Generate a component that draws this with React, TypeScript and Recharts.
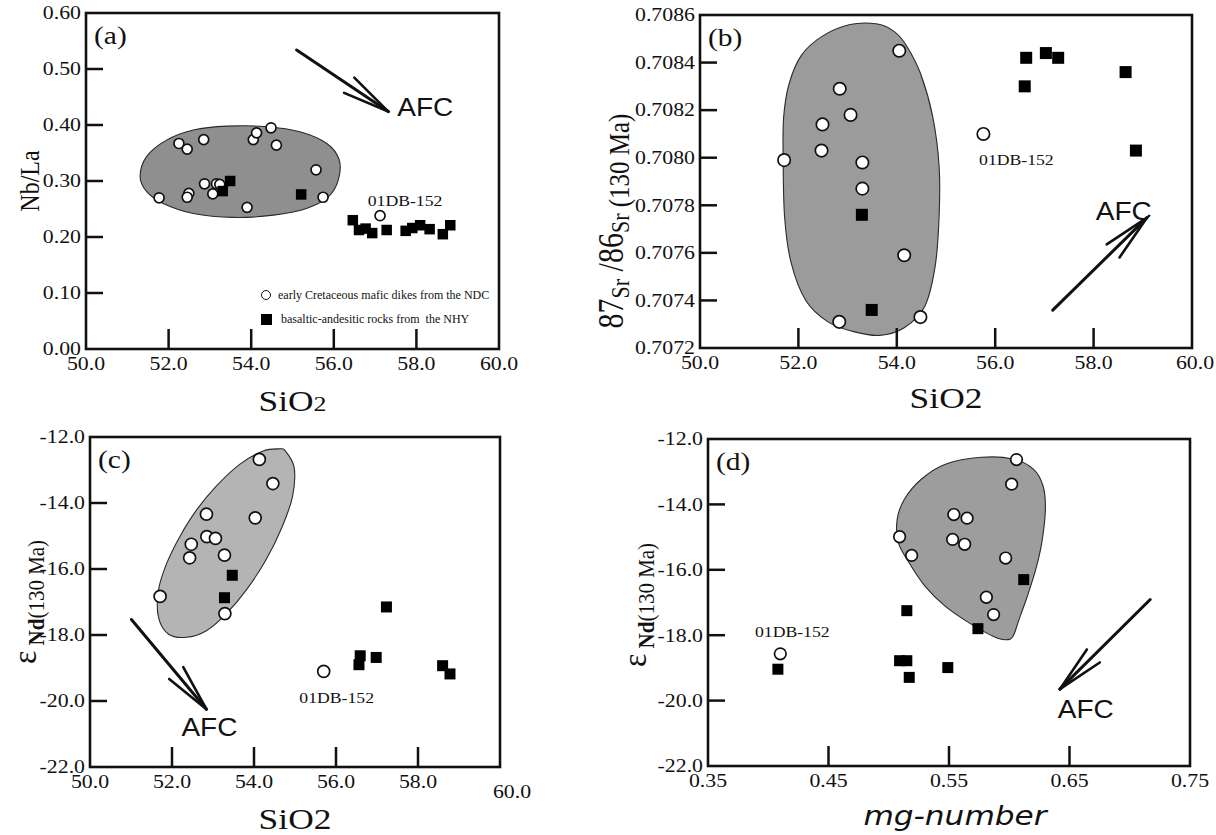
import React from 'react';
import {
  ScatterChart,
  Scatter,
  XAxis,
  YAxis,
  ReferenceArea,
  ReferenceLine,
  Legend,
} from 'recharts';

type XY = [number, number];

const W = 1216;
const H = 835;
const SERIF = '"Liberation Serif", "Times New Roman", serif';
const SANS = '"Liberation Sans", Arial, sans-serif';
const INK = '#111';
// lettering in this figure runs a little wide
const STRETCH = 1.18;

// axis ticks
const sio2Ticks = [50, 52, 54, 56, 58, 60];
const nbLaTicks = [0, 0.1, 0.2, 0.3, 0.4, 0.5, 0.6];
const srTicks = [0.7072, 0.7074, 0.7076, 0.7078, 0.708, 0.7082, 0.7084, 0.7086];
const epsNdTicks = [-22, -20, -18, -16, -14, -12];
const mgTicks = [0.35, 0.45, 0.55, 0.65, 0.75];

// (a) Nb/La vs SiO2
const nbLaNdc: XY[] = [
  [51.77, 0.27], [52.25, 0.367], [52.45, 0.357], [52.85, 0.374], [52.49, 0.278],
  [52.45, 0.271], [52.87, 0.295], [53.16, 0.295], [53.07, 0.277], [53.24, 0.294],
  [53.9, 0.253], [54.05, 0.374], [54.13, 0.386], [54.48, 0.395], [54.61, 0.364],
  [55.57, 0.32], [55.74, 0.271],
];
const nbLaOutlier: XY[] = [[57.12, 0.238]];
const nbLaNhy: XY[] = [
  [53.49, 0.3], [53.31, 0.282], [55.21, 0.276], [56.46, 0.23], [56.61, 0.2125],
  [56.77, 0.215], [56.93, 0.207], [57.28, 0.2125], [57.74, 0.211], [57.9, 0.216],
  [58.09, 0.221], [58.32, 0.214], [58.64, 0.205], [58.82, 0.221],
];
const nbLaField: XY[] = [
  [51.31, 0.308], [51.47, 0.344], [51.95, 0.373], [52.6, 0.391], [53.41, 0.398],
  [54.37, 0.397], [55.18, 0.388], [55.83, 0.367], [56.13, 0.338], [56.11, 0.302],
  [55.87, 0.272], [55.34, 0.251], [54.54, 0.239], [53.57, 0.235], [52.6, 0.242],
  [51.87, 0.26], [51.47, 0.281],
];
const nbLaAfc: XY[] = [[55.1, 0.534], [57.32, 0.424]];

// (b) 87Sr/86Sr(i) vs SiO2
const srNdc: XY[] = [
  [54.05, 0.70845], [52.84, 0.70829], [53.06, 0.70818], [52.49, 0.70814],
  [52.47, 0.70803], [51.71, 0.70799], [53.3, 0.70798], [53.3, 0.70787],
  [54.15, 0.70759], [52.83, 0.70731], [54.48, 0.70733],
];
const srOutlier: XY[] = [[55.76, 0.7081]];
const srNhy: XY[] = [
  [53.29, 0.70776], [53.49, 0.70736], [56.63, 0.70842], [56.6, 0.7083],
  [57.03, 0.70844], [57.28, 0.70842], [58.65, 0.70836], [58.86, 0.70803],
];
const srField: XY[] = [
  [53.61, 0.708562], [53.95, 0.70853], [54.2, 0.70847], [54.48, 0.708355],
  [54.73, 0.708173], [54.86, 0.707964], [54.86, 0.707754], [54.78, 0.707544],
  [54.57, 0.707376], [54.15, 0.707285], [53.65, 0.707253], [53.1, 0.70727],
  [52.6, 0.70731], [52.15, 0.7074], [51.85, 0.70756], [51.72, 0.70775],
  [51.69, 0.707992], [51.7, 0.70817], [51.81, 0.70831], [52.06, 0.70843],
  [52.48, 0.70851], [53.05, 0.70856],
];
const srAfc: XY[] = [[57.17, 0.707359], [59.08, 0.707747]];

// (c) eNd(t) vs SiO2
const ndSiNdc: XY[] = [
  [54.13, -12.68], [54.46, -13.41], [52.84, -14.34], [54.03, -14.45],
  [52.85, -15.02], [53.06, -15.07], [52.47, -15.25], [52.43, -15.66],
  [53.28, -15.58], [51.71, -16.83], [53.29, -17.35],
];
const ndSiOutlier: XY[] = [[55.7, -19.1]];
const ndSiNhy: XY[] = [
  [53.47, -16.19], [53.28, -16.87], [57.23, -17.15], [56.59, -18.63],
  [56.56, -18.9], [56.98, -18.68], [58.6, -18.93], [58.78, -19.18],
];
const ndSiField: XY[] = [
  [54.77, -12.43], [54.98, -12.93], [54.94, -13.8], [54.69, -14.71],
  [54.29, -15.73], [53.81, -16.64], [53.32, -17.36], [52.84, -17.87],
  [52.35, -18.07], [51.91, -17.97], [51.67, -17.46], [51.67, -16.64],
  [51.87, -15.83], [52.19, -15.02], [52.6, -14.21], [53.08, -13.49],
  [53.65, -12.83], [54.21, -12.43], [54.61, -12.36],
];
const ndSiAfc: XY[] = [[51.01, -17.53], [52.84, -20.25]];

// (d) eNd(t) vs mg-number
const ndMgNdc: XY[] = [
  [0.606, -12.63], [0.602, -13.38], [0.554, -14.31], [0.565, -14.42],
  [0.509, -14.99], [0.553, -15.07], [0.563, -15.22], [0.519, -15.56],
  [0.597, -15.64], [0.581, -16.84], [0.587, -17.37],
];
const ndMgOutlier: XY[] = [[0.41, -18.57]];
const ndMgNhy: XY[] = [
  [0.612, -16.3], [0.515, -17.25], [0.574, -17.8], [0.509, -18.78],
  [0.515, -18.78], [0.517, -19.29], [0.549, -18.99], [0.408, -19.04],
];
const ndMgField: XY[] = [
  [0.577, -12.56], [0.603, -12.61], [0.62, -12.92], [0.628, -13.43],
  [0.63, -14.15], [0.627, -15.17], [0.622, -15.99], [0.615, -16.81],
  [0.608, -17.53], [0.603, -18.04], [0.597, -18.14], [0.587, -18.04],
  [0.567, -17.63], [0.547, -17.12], [0.53, -16.5], [0.517, -15.79],
  [0.508, -15.17], [0.507, -14.46], [0.513, -13.84], [0.527, -13.23],
  [0.547, -12.77],
];
const ndMgAfc: XY[] = [[0.717, -16.91], [0.642, -19.65]];

const legendRows = [
  { label: 'early Cretaceous mafic dikes from the NDC', marker: 'circle' },
  { label: 'basaltic-andesitic rocks from  the NHY', marker: 'square' },
];

interface Box {
  left: number;
  right: number;
  top: number;
  bottom: number;
}

interface PanelSpec {
  tag: string;
  box: Box;
  xTicks: number[];
  yTicks: number[];
  xDigits: number;
  yDigits: number;
  ndc: XY[];
  outlier: XY[];
  nhy: XY[];
  field: XY[];
  afc: XY[];
  fieldFill: string;
  r: number;
  sq: number;
  outlierText: [number, number];
  afcText: { dx: number; dy: number; anchor: 'start' | 'middle' | 'end' };
  lastXShift: [number, number];
  xTitle: (cx: number) => React.ReactNode;
  yTitle: () => React.ReactNode;
}

// text drawn at (x, y) and widened horizontally
function SText({ x, y, sx = STRETCH, rotate, children, ...rest }: any) {
  const t = `translate(${x} ${y}) scale(${sx} 1)${rotate ? ` rotate(${rotate})` : ''}`;
  return (
    <text transform={t} fill={INK} {...rest}>
      {children}
    </text>
  );
}

// smooth closed outline through the given pixel points (Catmull-Rom)
const closedSpline = (p: number[][]) => {
  const n = p.length;
  let d = `M${p[0][0]},${p[0][1]}`;
  for (let i = 0; i < n; i++) {
    const p0 = p[(i - 1 + n) % n];
    const p1 = p[i];
    const p2 = p[(i + 1) % n];
    const p3 = p[(i + 2) % n];
    const c1x = p1[0] + (p2[0] - p0[0]) / 6;
    const c1y = p1[1] + (p2[1] - p0[1]) / 6;
    const c2x = p2[0] - (p3[0] - p1[0]) / 6;
    const c2y = p2[1] - (p3[1] - p1[1]) / 6;
    d += ` C${c1x},${c1y} ${c2x},${c2y} ${p2[0]},${p2[1]}`;
  }
  return d + 'Z';
};

const bounds = (pts: XY[]) => {
  const xs = pts.map(q => q[0]);
  const ys = pts.map(q => q[1]);
  return { x0: Math.min(...xs), x1: Math.max(...xs), y0: Math.min(...ys), y1: Math.max(...ys) };
};

// the reference area spans the outline's bounding box, so the outline maps linearly into it
const fieldShape = (outline: XY[], fill: string) => (p: any) => {
  const b = bounds(outline);
  const px = outline.map(([u, v]) => [
    p.x + ((u - b.x0) / (b.x1 - b.x0)) * p.width,
    p.y + ((b.y1 - v) / (b.y1 - b.y0)) * p.height,
  ]);
  return <path d={closedSpline(px)} fill={fill} stroke="#2a2a2a" strokeWidth={1.1} />;
};

const frameShape = (spec: PanelSpec) => (p: any) => (
  <g>
    <rect x={p.x} y={p.y} width={p.width} height={p.height} fill="none" stroke={INK} strokeWidth={2.6} />
    <SText x={p.x + 8} y={p.y + 31} fontFamily={SERIF} fontSize={25}>
      {spec.tag}
    </SText>
    {spec.xTitle(p.x + p.width / 2)}
    {spec.yTitle()}
  </g>
);

const arrowShape = (spec: PanelSpec) => (p: any) => {
  const { x1, y1, x2, y2 } = p;
  const back = Math.atan2(y1 - y2, x1 - x2);
  const barb = (side: number) => {
    const a = back + side * ((11 * Math.PI) / 180);
    return (
      <line
        x1={x2}
        y1={y2}
        x2={x2 + 48 * Math.cos(a)}
        y2={y2 + 48 * Math.sin(a)}
        stroke={INK}
        strokeWidth={2.6}
        strokeLinecap="round"
      />
    );
  };
  return (
    <g>
      <line x1={x1} y1={y1} x2={x2} y2={y2} stroke={INK} strokeWidth={3} strokeLinecap="round" />
      {barb(1)}
      {barb(-1)}
      <SText
        x={x2 + spec.afcText.dx}
        y={y2 + spec.afcText.dy}
        sx={1.12}
        textAnchor={spec.afcText.anchor}
        fontFamily={SANS}
        fontSize={25}
      >
        AFC
      </SText>
    </g>
  );
};

const openCircle = (r: number) => (p: any) => (
  <circle cx={p.cx} cy={p.cy} r={r} fill="#fff" stroke={INK} strokeWidth={1.7} />
);

const solidSquare = (s: number) => (p: any) => (
  <rect x={p.cx - s / 2} y={p.cy - s / 2} width={s} height={s} fill="#000" />
);

const outlierShape = (spec: PanelSpec) => (p: any) => (
  <g>
    <circle cx={p.cx} cy={p.cy} r={spec.r} fill="#fff" stroke={INK} strokeWidth={1.7} />
    <SText
      x={p.cx + spec.outlierText[0]}
      y={p.cy + spec.outlierText[1]}
      textAnchor="middle"
      fontFamily={SERIF}
      fontSize={15}
    >
      01DB-152
    </SText>
  </g>
);

const renderXTick = (spec: PanelSpec, dom: number[]) => (p: any) => {
  const v = p.payload.value as number;
  const edge = v === dom[0] || v === dom[1];
  const [sx, sy] = v === dom[1] ? spec.lastXShift : [0, 0];
  return (
    <g>
      {!edge && <line x1={p.x} x2={p.x} y1={p.y} y2={p.y - 20} stroke={INK} strokeWidth={2.5} />}
      <SText x={p.x + sx} y={p.y + 21 + sy} textAnchor="middle" fontFamily={SERIF} fontSize={18.5}>
        {v.toFixed(spec.xDigits)}
      </SText>
    </g>
  );
};

const renderYTick = (spec: PanelSpec, dom: number[]) => (p: any) => {
  const v = p.payload.value as number;
  const edge = v === dom[0] || v === dom[1];
  return (
    <g>
      {!edge && <line x1={p.x} x2={p.x + 17} y1={p.y} y2={p.y} stroke={INK} strokeWidth={2.5} />}
      <SText x={p.x - 5} y={p.y} dy="0.34em" textAnchor="end" fontFamily={SERIF} fontSize={18.5}>
        {v.toFixed(spec.yDigits)}
      </SText>
    </g>
  );
};

const sio2Title = (y: number, smallTwo: boolean) => (cx: number) => (
  <SText x={cx} y={y} textAnchor="middle" fontFamily={SERIF} fontSize={30}>
    SiO<tspan fontSize={smallTwo ? 22 : 30}>2</tspan>
  </SText>
);

const epsNdTitle = (x: number, y: number) => () => (
  <SText x={x} y={y} sx={1.08} rotate={-90} textAnchor="middle" fontFamily={SERIF} fontSize={32}>
    ε
    <tspan fontSize={21} fontWeight="bold" dy={7}>
      {' '}Nd
    </tspan>
    <tspan fontSize={21}>(130 Ma)</tspan>
  </SText>
);

const panelA: PanelSpec = {
  tag: '(a)',
  box: { left: 86, right: 499, top: 13, bottom: 349 },
  xTicks: sio2Ticks,
  yTicks: nbLaTicks,
  xDigits: 1,
  yDigits: 2,
  ndc: nbLaNdc,
  outlier: nbLaOutlier,
  nhy: nbLaNhy,
  field: nbLaField,
  afc: nbLaAfc,
  fieldFill: '#8f8f8f',
  r: 5,
  sq: 10.5,
  outlierText: [25, -10],
  afcText: { dx: 9, dy: 4, anchor: 'start' },
  lastXShift: [0, 0],
  xTitle: sio2Title(411, true),
  yTitle: () => (
    <SText x={39} y={181} rotate={-90} textAnchor="middle" fontFamily={SERIF} fontSize={24}>
      Nb/La
    </SText>
  ),
};

const panelB: PanelSpec = {
  tag: '(b)',
  box: { left: 700, right: 1192, top: 15, bottom: 348 },
  xTicks: sio2Ticks,
  yTicks: srTicks,
  xDigits: 1,
  yDigits: 4,
  ndc: srNdc,
  outlier: srOutlier,
  nhy: srNhy,
  field: srField,
  afc: srAfc,
  fieldFill: '#9b9b9b',
  r: 6.2,
  sq: 12,
  outlierText: [33, 31],
  afcText: { dx: 5, dy: 2, anchor: 'end' },
  lastXShift: [3, 0],
  xTitle: sio2Title(408, false),
  yTitle: () => (
    <SText x={623} y={221} rotate={-90} textAnchor="middle" fontFamily={SERIF} fontSize={30}>
      87
      <tspan fontSize={22} dy={5}>Sr</tspan>
      <tspan dy={-5}> /86</tspan>
      <tspan fontSize={22} dy={5}>Sr</tspan>
      <tspan fontSize={25}> (130 Ma)</tspan>
    </SText>
  ),
};

const panelC: PanelSpec = {
  tag: '(c)',
  box: { left: 90, right: 500, top: 437, bottom: 767 },
  xTicks: sio2Ticks,
  yTicks: epsNdTicks,
  xDigits: 1,
  yDigits: 1,
  ndc: ndSiNdc,
  outlier: ndSiOutlier,
  nhy: ndSiNhy,
  field: ndSiField,
  afc: ndSiAfc,
  fieldFill: '#b4b4b4',
  r: 6,
  sq: 11,
  outlierText: [13, 32],
  afcText: { dx: 3, dy: 27, anchor: 'middle' },
  lastXShift: [12, 10],
  xTitle: sio2Title(829, false),
  yTitle: epsNdTitle(36, 602),
};

const panelD: PanelSpec = {
  tag: '(d)',
  box: { left: 708, right: 1190, top: 439, bottom: 766 },
  xTicks: mgTicks,
  yTicks: epsNdTicks,
  xDigits: 2,
  yDigits: 1,
  ndc: ndMgNdc,
  outlier: ndMgOutlier,
  nhy: ndMgNhy,
  field: ndMgField,
  afc: ndMgAfc,
  fieldFill: '#9d9d9d',
  r: 5.8,
  sq: 11,
  outlierText: [12, -17],
  afcText: { dx: -2, dy: 29, anchor: 'start' },
  lastXShift: [0, 0],
  xTitle: (cx: number) => (
    <SText
      x={cx + 6}
      y={825}
      sx={1.2}
      textAnchor="middle"
      fontFamily='"DejaVu Sans", sans-serif'
      fontStyle="italic"
      fontSize={26}
    >
      mg-number
    </SText>
  ),
  yTitle: epsNdTitle(646, 605),
};

const toPts = (rows: XY[]) => rows.map(([x, y]) => ({ x, y }));

const renderLegend = () => (
  <div style={{ fontFamily: SERIF, fontSize: 12, color: INK }}>
    {legendRows.map(row => (
      <div key={row.label} style={{ display: 'flex', alignItems: 'center', height: 24, whiteSpace: 'pre' }}>
        <span
          style={{
            display: 'inline-block',
            width: row.marker === 'circle' ? 10 : 11,
            height: row.marker === 'circle' ? 10 : 11,
            boxSizing: 'border-box',
            border: row.marker === 'circle' ? `1.7px solid ${INK}` : 'none',
            borderRadius: row.marker === 'circle' ? '50%' : 0,
            background: row.marker === 'circle' ? '#fff' : '#000',
            marginRight: row.marker === 'circle' ? 7 : 9,
          }}
        />
        {row.label}
      </div>
    ))}
  </div>
);

function Panel({ spec, children }: { spec: PanelSpec; children?: React.ReactNode }) {
  const { box } = spec;
  const xDom = [spec.xTicks[0], spec.xTicks[spec.xTicks.length - 1]];
  const yDom = [spec.yTicks[0], spec.yTicks[spec.yTicks.length - 1]];
  const fb = bounds(spec.field);
  return (
    <div style={{ position: 'absolute', left: 0, top: 0 }}>
      <ScatterChart
        width={W}
        height={H}
        margin={{ left: box.left - 60, right: W - box.right, top: box.top, bottom: H - box.bottom - 40 }}
      >
        <XAxis
          type="number"
          dataKey="x"
          domain={xDom}
          ticks={spec.xTicks}
          interval={0}
          allowDataOverflow
          axisLine={false}
          tickLine={false}
          tickSize={0}
          tickMargin={0}
          height={40}
          tick={renderXTick(spec, xDom)}
        />
        <YAxis
          type="number"
          dataKey="y"
          domain={yDom}
          ticks={spec.yTicks}
          interval={0}
          allowDataOverflow
          axisLine={false}
          tickLine={false}
          tickSize={0}
          tickMargin={0}
          width={60}
          tick={renderYTick(spec, yDom)}
        />
        <ReferenceArea x1={fb.x0} x2={fb.x1} y1={fb.y0} y2={fb.y1} shape={fieldShape(spec.field, spec.fieldFill)} />
        <ReferenceArea x1={xDom[0]} x2={xDom[1]} y1={yDom[0]} y2={yDom[1]} shape={frameShape(spec)} />
        <ReferenceLine segment={toPts(spec.afc)} shape={arrowShape(spec)} />
        <Scatter data={toPts(spec.ndc)} shape={openCircle(spec.r)} isAnimationActive={false} />
        <Scatter data={toPts(spec.outlier)} shape={outlierShape(spec)} isAnimationActive={false} />
        <Scatter data={toPts(spec.nhy)} shape={solidSquare(spec.sq)} isAnimationActive={false} />
        {children}
      </ScatterChart>
    </div>
  );
}

export default function App() {
  return (
    <div style={{ position: 'absolute', left: 0, top: 0, width: W, height: H, background: '#fff', overflow: 'hidden' }}>
      <Panel spec={panelA}>
        <Legend
          layout="vertical"
          align="center"
          verticalAlign="middle"
          content={renderLegend}
          wrapperStyle={{ left: 261, top: 283, width: 240, height: 48 }}
        />
      </Panel>
      <Panel spec={panelB} />
      <Panel spec={panelC} />
      <Panel spec={panelD} />
    </div>
  );
}
